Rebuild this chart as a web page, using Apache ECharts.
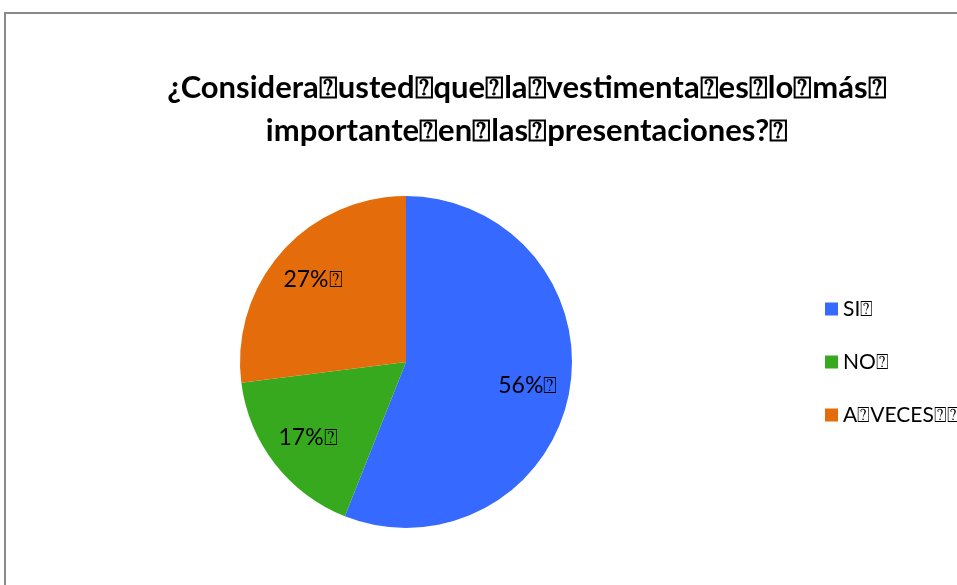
<!DOCTYPE html>
<html><head><meta charset="utf-8">
<script src="https://cdn.jsdelivr.net/npm/echarts@6/dist/echarts.min.js"></script>
<style>html,body{margin:0;padding:0;background:#fff}#c{width:957px;height:585px}</style>
</head><body><div id="c"></div>
<script>
const titleText = '¿Considera\u2370usted\u2370que\u2370la\u2370vestimenta\u2370es\u2370lo\u2370más\u2370\nimportante\u2370en\u2370las\u2370presentaciones?\u2370';
const categories = ['SI\u2370', 'NO\u2370', 'A\u2370VECES\u2370\u2370'];
const values = [56, 17, 27];
const colors = ['#3669FF', '#37A91E', '#E46C0B'];

const data = categories.map((c, i) => ({ name: c, value: values[i], itemStyle: { color: colors[i] } }));
const chart = echarts.init(document.getElementById('c'));
const font = 'Lato, "Open Sans", sans-serif';
chart.setOption({
  animation: false,
  title: {
    text: titleText, left: 522, top: 61, textAlign: 'center',
    textStyle: { fontFamily: font, fontWeight: 'bold', fontSize: 31, lineHeight: 43, color: '#000' }
  },
  legend: {
    orient: 'vertical', left: 820, top: 293, itemWidth: 13, itemHeight: 13, itemGap: 31, icon: 'rect',
    data: categories,
    textStyle: { fontFamily: font, fontSize: 21, color: '#000', lineHeight: 22 }
  },
  graphic: [{
    type: 'rect', shape: { x: 5, y: 13, width: 1000, height: 700 },
    style: { fill: 'none', stroke: '#8a8a8a', lineWidth: 2 }, silent: true
  }],
  series: [{
    type: 'pie', center: [406, 362], radius: [0, 166], startAngle: 90, clockwise: true,
    label: { show: false }, labelLine: { show: false }, data: data, silent: true
  }, {
    type: 'pie', center: [406, 362], radius: [76, 166], startAngle: 90, clockwise: true,
    itemStyle: { color: 'rgba(0,0,0,0)' }, silent: true,
    label: { show: true, position: 'inside', formatter: p => p.value + '%\u2370',
      fontFamily: font, fontSize: 23, color: '#000' },
    labelLine: { show: false },
    data: categories.map((c, i) => ({ name: c, value: values[i], itemStyle: { color: 'rgba(0,0,0,0)' } }))
  }]
});
</script></body></html>
